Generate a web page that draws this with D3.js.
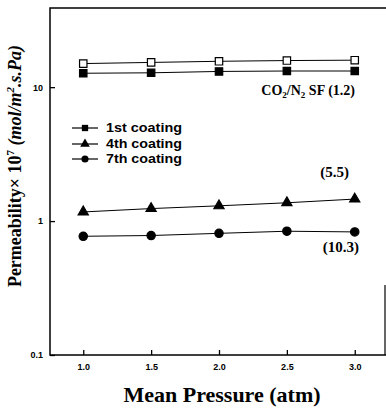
<!DOCTYPE html>
<html><head><meta charset="utf-8">
<script src="https://cdn.jsdelivr.net/npm/d3@7"></script>
<style>body{margin:0;background:#fff}svg{display:block}</style>
</head><body>
<script>
const pressures = [1.0, 1.5, 2.0, 2.5, 3.0];
const co2Open = [15.0, 15.3, 15.6, 15.8, 15.9];
const coat1 = [12.7, 12.8, 13.1, 13.2, 13.2];
const coat4 = [1.17, 1.24, 1.30, 1.37, 1.46];
const coat7 = [0.77, 0.78, 0.81, 0.84, 0.83];
const xTicks = [1.0, 1.5, 2.0, 2.5, 3.0];
const yTicks = [0.1, 1, 10];
const legendLabels = ["1st coating", "4th coating", "7th coating"];

const W = 386, H = 411;
const svg = d3.select("body").append("svg").attr("width", W).attr("height", H);
const L = 50, R = 388, T = 8, B = 355;
const x = d3.scaleLinear().domain([0.755, 3.245]).range([L, R]);
const y = d3.scaleLog().domain([0.1, 39]).range([B, T]);

// frame (right edge falls just outside the window)
svg.append("rect").attr("x", L).attr("y", T).attr("width", R - L).attr("height", B - T)
  .attr("fill", "none").attr("stroke", "#000").attr("stroke-width", 1.5);
svg.append("line").attr("x1", 385).attr("x2", 385).attr("y1", 285).attr("y2", B)
  .attr("stroke", "#000").attr("stroke-width", 1.2);

// x axis ticks (inward)
const xa = svg.append("g").attr("transform", `translate(0,${B})`)
  .call(d3.axisBottom(x).tickValues(xTicks).tickSizeInner(-5).tickSizeOuter(0).tickPadding(9).tickFormat(d3.format(".1f")));
xa.select(".domain").remove();
xa.selectAll("line").attr("stroke-width", 1.3);
xa.selectAll("text").attr("font-family", "Liberation Sans, Arial, sans-serif").attr("font-weight", "bold").attr("font-size", 9);

const ya = svg.append("g").attr("transform", `translate(${L},0)`)
  .call(d3.axisLeft(y).tickValues(yTicks).tickSizeInner(-5).tickSizeOuter(0).tickPadding(7).tickFormat(d => d3.format("~g")(d)));
ya.select(".domain").remove();
ya.selectAll("line").attr("stroke-width", 1.3);
ya.selectAll("text").attr("font-family", "Liberation Sans, Arial, sans-serif").attr("font-weight", "bold").attr("font-size", 9);

const line = d3.line().x((d, i) => x(pressures[i])).y(d => y(d));
const seriesList = [
  {vals: co2Open, sym: d3.symbolSquare, fill: "#fff", size: 55},
  {vals: coat1, sym: d3.symbolSquare, fill: "#000", size: 55},
  {vals: coat4, sym: d3.symbolTriangle, fill: "#000", size: 45},
  {vals: coat7, sym: d3.symbolCircle, fill: "#000", size: 55}
];
seriesList.forEach(s => {
  svg.append("path").attr("d", line(s.vals)).attr("fill", "none").attr("stroke", "#000").attr("stroke-width", 1);
  svg.selectAll(null).data(s.vals).enter().append("path")
    .attr("d", d3.symbol().type(s.sym).size(s.size))
    .attr("transform", (d, i) => `translate(${x(pressures[i])},${y(d)})`)
    .attr("fill", s.fill).attr("stroke", "#000").attr("stroke-width", 1.2);
});

// legend
const legY = [128, 144, 159];
const legSyms = [d3.symbolSquare, d3.symbolTriangle, d3.symbolCircle];
legendLabels.forEach((lab, i) => {
  svg.append("line").attr("x1", 72).attr("x2", 98).attr("y1", legY[i]).attr("y2", legY[i]).attr("stroke", "#000").attr("stroke-width", 1.2);
  svg.append("path").attr("d", d3.symbol().type(legSyms[i]).size(40)).attr("transform", `translate(85,${legY[i]})`).attr("fill", "#000");
  svg.append("text").attr("x", 106).attr("y", legY[i] + 4).text(lab)
    .attr("font-family", "Liberation Sans, Arial, sans-serif").attr("font-weight", "bold").attr("font-size", 12)
    .attr("textLength", 76).attr("lengthAdjust", "spacingAndGlyphs");
});

const serif = "Liberation Serif, Times New Roman, serif";
// annotations
const co2 = svg.append("text").attr("x", 355).attr("y", 95).attr("text-anchor", "end")
  .attr("font-family", serif).attr("font-weight", "bold").attr("font-size", 14);
co2.append("tspan").text("CO");
co2.append("tspan").text("2").attr("font-size", 9).attr("dy", 3);
co2.append("tspan").text("/N").attr("dy", -3);
co2.append("tspan").text("2").attr("font-size", 9).attr("dy", 3);
co2.append("tspan").text(" SF (1.2)").attr("dy", -3);

svg.append("text").attr("x", 349).attr("y", 177).attr("text-anchor", "end").text("(5.5)")
  .attr("font-family", serif).attr("font-weight", "bold").attr("font-size", 15);
svg.append("text").attr("x", 359).attr("y", 252).attr("text-anchor", "end").text("(10.3)")
  .attr("font-family", serif).attr("font-weight", "bold").attr("font-size", 15);

// axis titles
svg.append("text").attr("x", 222).attr("y", 402).attr("text-anchor", "middle").text("Mean Pressure (atm)")
  .attr("font-family", serif).attr("font-weight", "bold").attr("font-size", 22);

const yl = svg.append("text").attr("transform", "translate(21,166) rotate(-90)").attr("text-anchor", "middle")
  .attr("font-family", serif).attr("font-weight", "bold").attr("font-size", 18);
yl.append("tspan").text("Permeability× 10");
yl.append("tspan").text("7").attr("font-size", 11).attr("dy", -7);
yl.append("tspan").text(" (mol/m").attr("dy", 7).attr("font-style", "italic");
yl.append("tspan").text("2").attr("font-size", 11).attr("dy", -7).attr("font-style", "italic");
yl.append("tspan").text(".s.Pa)").attr("dy", 7).attr("font-style", "italic");
</script>
</body></html>
